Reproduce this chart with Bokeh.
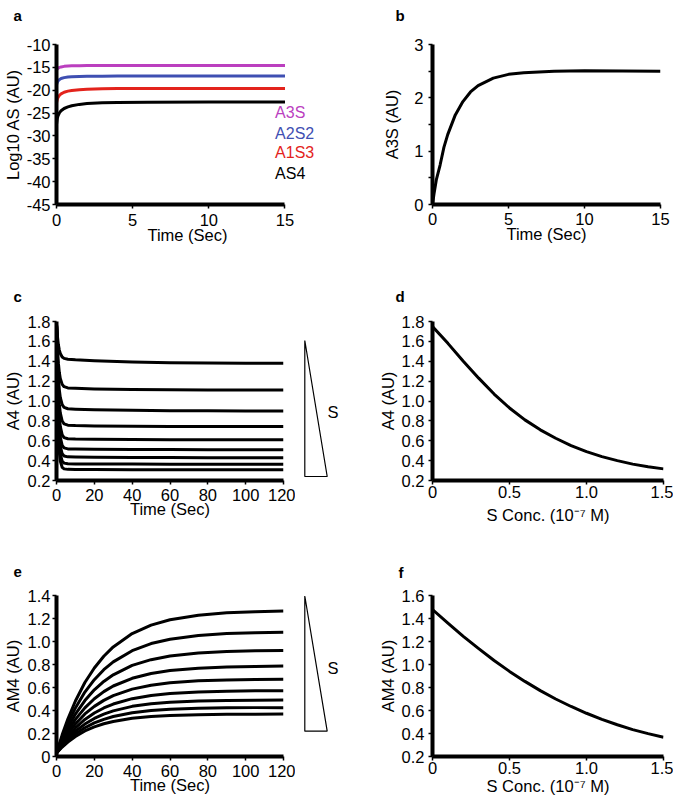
from bokeh.plotting import figure
from bokeh.layouts import row, column
from bokeh.models import Range1d, FixedTicker
from bokeh.embed import file_html
from bokeh.resources import INLINE
from bokeh.core.properties import value

FONT = "Liberation Sans"
FS = "16.5px"

# ---------------- data ----------------
# panel a : log10 of AS species vs time
a_time = [0, 0.05, 0.1, 0.2, 0.3, 0.5, 0.75, 1.0, 1.5, 2.0, 3.0, 4.0, 6.0, 10.0, 15.0]
a_A3S = [-15.6, -15.35, -15.2, -15.0, -14.9, -14.78, -14.71, -14.67, -14.63, -14.61, -14.6, -14.6, -14.6, -14.6, -14.6]
a_A2S2 = [-18.8, -18.3, -18.0, -17.65, -17.45, -17.25, -17.12, -17.05, -16.98, -16.95, -16.92, -16.91, -16.9, -16.9, -16.9]
a_A1S3 = [-22.8, -22.0, -21.6, -21.1, -20.8, -20.45, -20.2, -20.05, -19.88, -19.78, -19.68, -19.64, -19.61, -19.6, -19.6]
a_AS4 = [-27.5, -26.2, -25.6, -24.9, -24.5, -24.0, -23.65, -23.4, -23.1, -22.93, -22.75, -22.68, -22.63, -22.6, -22.6]
a_names = ["A3S", "A2S2", "A1S3", "AS4"]
a_colors = ["#bb3fbf", "#3f4fb2", "#e3231c", "#000000"]
a_xticks = [0, 5, 10, 15]
a_xlabels = ["0", "5", "10", "15"]
a_yticks = [-45, -40, -35, -30, -25, -20, -15, -10]
a_ylabels = ["-45", "-40", "-35", "-30", "-25", "-20", "-15", "-10"]

# panel b : A3S vs time
b_time = [0, 0.1, 0.25, 0.5, 0.75, 1.0, 1.5, 2.0, 2.5, 3.0, 4.0, 5.0, 6.0, 8.0, 10.0, 15.0]
b_A3S = [0, 0.2, 0.46, 0.74, 1.07, 1.31, 1.68, 1.93, 2.11, 2.23, 2.37, 2.44, 2.47, 2.5, 2.51, 2.5]
b_xticks = [0, 5, 10, 15]
b_xlabels = ["0", "5", "10", "15"]
b_yticks = [0, 1, 2, 3]
b_ylabels = ["0", "1", "2", "3"]
b_yminor = [0.5, 1.5, 2.5]

# panel c : A4 vs time for increasing S
c_time = [0, 0.5, 1, 1.5, 2, 3, 4, 6, 10, 20, 40, 60, 80, 100, 120]
c_A4 = [
    [1.78, 1.649, 1.565, 1.512, 1.478, 1.443, 1.429, 1.421, 1.415, 1.405, 1.392, 1.386, 1.383, 1.381, 1.380],
    [1.78, 1.534, 1.381, 1.286, 1.227, 1.167, 1.144, 1.132, 1.128, 1.122, 1.115, 1.112, 1.111, 1.110, 1.110],
    [1.78, 1.442, 1.236, 1.112, 1.036, 0.963, 0.936, 0.922, 0.918, 0.912, 0.906, 0.903, 0.901, 0.900, 0.900],
    [1.78, 1.361, 1.113, 0.966, 0.880, 0.799, 0.770, 0.757, 0.753, 0.749, 0.746, 0.744, 0.743, 0.743, 0.743],
    [1.78, 1.285, 1.000, 0.838, 0.744, 0.660, 0.632, 0.620, 0.617, 0.614, 0.612, 0.611, 0.610, 0.610, 0.610],
    [1.78, 1.218, 0.906, 0.733, 0.637, 0.554, 0.528, 0.518, 0.516, 0.514, 0.512, 0.511, 0.510, 0.510, 0.510],
    [1.78, 1.155, 0.822, 0.642, 0.547, 0.469, 0.446, 0.438, 0.436, 0.434, 0.432, 0.431, 0.430, 0.430, 0.430],
    [1.78, 1.092, 0.741, 0.559, 0.466, 0.394, 0.375, 0.368, 0.367, 0.366, 0.365, 0.364, 0.363, 0.363, 0.363],
    [1.78, 1.031, 0.664, 0.484, 0.396, 0.332, 0.317, 0.312, 0.311, 0.310, 0.309, 0.308, 0.307, 0.307, 0.307],
]
time_ticks = [0, 20, 40, 60, 80, 100, 120]
time_labels = ["0", "20", "40", "60", "80", "100", "120"]
a4_ticks = [0.2, 0.4, 0.6, 0.8, 1.0, 1.2, 1.4, 1.6, 1.8]
a4_labels = ["0.2", "0.4", "0.6", "0.8", "1.0", "1.2", "1.4", "1.6", "1.8"]

# panel d : A4 vs S concentration
d_conc = [0, 0.1, 0.2, 0.3, 0.4, 0.5, 0.6, 0.7, 0.8, 0.9, 1.0, 1.1, 1.2, 1.3, 1.4, 1.5]
d_A4 = [1.75, 1.58, 1.40, 1.23, 1.07, 0.93, 0.81, 0.71, 0.625, 0.55, 0.49, 0.44, 0.40, 0.365, 0.338, 0.317]
conc_ticks = [0, 0.5, 1.0, 1.5]
conc_labels = ["0", "0.5", "1.0", "1.5"]

# panel e : AM4 vs time for increasing S
e_time = [0, 3, 6, 10, 15, 20, 25, 30, 40, 50, 60, 75, 90, 105, 120]
e_AM4 = [
    [0.03, 0.188, 0.326, 0.483, 0.643, 0.770, 0.872, 0.953, 1.069, 1.142, 1.189, 1.229, 1.249, 1.259, 1.265],
    [0.03, 0.167, 0.286, 0.422, 0.560, 0.668, 0.755, 0.823, 0.920, 0.982, 1.020, 1.053, 1.069, 1.077, 1.081],
    [0.03, 0.149, 0.253, 0.369, 0.486, 0.580, 0.653, 0.710, 0.792, 0.842, 0.874, 0.900, 0.913, 0.919, 0.922],
    [0.03, 0.133, 0.223, 0.323, 0.423, 0.502, 0.564, 0.613, 0.680, 0.722, 0.747, 0.768, 0.779, 0.783, 0.786],
    [0.03, 0.119, 0.197, 0.283, 0.370, 0.436, 0.488, 0.530, 0.586, 0.620, 0.641, 0.658, 0.666, 0.670, 0.671],
    [0.03, 0.108, 0.174, 0.248, 0.322, 0.378, 0.422, 0.456, 0.503, 0.531, 0.548, 0.561, 0.568, 0.571, 0.572],
    [0.03, 0.097, 0.155, 0.219, 0.282, 0.331, 0.368, 0.397, 0.436, 0.459, 0.472, 0.483, 0.488, 0.490, 0.491],
    [0.03, 0.089, 0.140, 0.196, 0.250, 0.292, 0.323, 0.348, 0.380, 0.399, 0.411, 0.419, 0.423, 0.425, 0.425],
    [0.03, 0.082, 0.126, 0.174, 0.222, 0.257, 0.285, 0.305, 0.332, 0.348, 0.357, 0.364, 0.367, 0.368, 0.369],
]
e_yticks = [0, 0.2, 0.4, 0.6, 0.8, 1.0, 1.2, 1.4]
e_ylabels = ["0", "0.2", "0.4", "0.6", "0.8", "1.0", "1.2", "1.4"]

# panel f : AM4 vs S concentration
f_conc = [0, 0.1, 0.2, 0.3, 0.4, 0.5, 0.6, 0.7, 0.8, 0.9, 1.0, 1.1, 1.2, 1.3, 1.4, 1.5]
f_AM4 = [1.478, 1.36, 1.245, 1.138, 1.035, 0.94, 0.853, 0.773, 0.70, 0.635, 0.576, 0.523, 0.476, 0.434, 0.399, 0.368]
f_yticks = [0.2, 0.4, 0.6, 0.8, 1.0, 1.2, 1.4, 1.6]
f_ylabels = ["0.2", "0.4", "0.6", "0.8", "1.0", "1.2", "1.4", "1.6"]

# S-gradient wedge shape (fractions of its box)
wedge_x = [0.0, 0.0, 1.0]
wedge_y = [0.0, 1.0, 1.0]

LW = 3
TOTAL_W = 673


def make_fig(w, h, xr, yr, bl, br, bt, bb):
    p = figure(width=w, height=h, x_range=Range1d(*xr), y_range=Range1d(*yr),
               output_backend="svg", toolbar_location=None,
               min_border_left=bl, min_border_right=br, min_border_top=bt, min_border_bottom=bb)
    p.outline_line_color = None
    p.grid.visible = False
    p.background_fill_color = "white"
    return p


def style(p, xticks, xlabels, yticks, ylabels, xlabel, ylabel, x_std=0, y_std=0, x_lstd=2, y_lstd=2,
          yminor=None, xbounds=None):
    p.xaxis.ticker = FixedTicker(ticks=xticks)
    p.yaxis.ticker = FixedTicker(ticks=yticks, minor_ticks=yminor or [])
    p.xaxis.major_label_overrides = dict(zip(xticks, xlabels))
    p.yaxis.major_label_overrides = dict(zip(yticks, ylabels))
    if xbounds:
        p.xaxis.bounds = xbounds
    p.xaxis.axis_label = xlabel
    p.yaxis.axis_label = ylabel
    for ax in p.axis:
        ax.axis_line_width = 4
        ax.axis_line_color = "black"
        ax.major_tick_line_width = 1.5
        ax.major_tick_line_color = "black"
        ax.major_tick_out = 4
        ax.major_tick_in = 0
        ax.minor_tick_line_width = 1.5
        ax.minor_tick_line_color = "black"
        ax.minor_tick_in = 0
        ax.major_label_text_font = FONT
        ax.major_label_text_font_size = FS
        ax.major_label_text_color = "black"
        ax.axis_label_text_font = FONT
        ax.axis_label_text_font_size = FS
        ax.axis_label_text_font_style = "normal"
        ax.axis_label_text_color = "black"
    p.xaxis.minor_tick_out = 0
    p.yaxis.minor_tick_out = 4 if yminor else 0
    p.xaxis.major_label_standoff = x_std
    p.yaxis.major_label_standoff = y_std
    p.xaxis.axis_label_standoff = x_lstd
    p.yaxis.axis_label_standoff = y_lstd


def strip(h, letters, xs, baseline):
    p = figure(width=TOTAL_W, height=h, x_range=Range1d(0, TOTAL_W), y_range=Range1d(h, 0),
               output_backend="svg", toolbar_location=None,
               x_axis_type=None, y_axis_type=None,
               min_border_left=0, min_border_right=0, min_border_top=0, min_border_bottom=0)
    p.outline_line_color = None
    p.grid.visible = False
    p.text(x=xs, y=[baseline] * len(xs), text=letters, text_font=value(FONT),
           text_font_size="15px", text_font_style="bold", text_color="black",
           text_align="left", text_baseline="alphabetic")
    return p


def wedge_fig(w, h, bt, bb, top, bottom, left, right, sx, sy):
    # coordinates are pixels from the top-left of this figure; borders match the row's plots
    p = figure(width=w, height=h, x_range=Range1d(0, w), y_range=Range1d(h - bb, bt),
               output_backend="svg", toolbar_location=None,
               x_axis_type=None, y_axis_type=None,
               min_border_left=0, min_border_right=0, min_border_top=bt, min_border_bottom=bb)
    p.outline_line_color = None
    p.grid.visible = False
    xs = [left + fx * (right - left) for fx in wedge_x]
    ys = [top + fy * (bottom - top) for fy in wedge_y]
    p.patch(xs, ys, fill_color=None, line_color="black", line_width=1.2)
    p.text(x=[sx], y=[sy], text=["S"], text_font=value(FONT), text_font_size=FS,
           text_align="center", text_baseline="middle", text_color="black")
    return p


# ---------------- row 1 ----------------
s1 = strip(22, ["a", "b"], [13, 395], 14.5)

pa = make_fig(340, 228, (0, 17.2), (-45, -10), 53, 22, 22, 46)
for ys, col in zip([a_A3S, a_A2S2, a_A1S3, a_AS4], a_colors):
    pa.line(a_time, ys, line_color=col, line_width=LW, line_join="round")
style(pa, a_xticks, a_xlabels, a_yticks, a_ylabels, "Time (Sec)", "Log10 AS (AU)",
      x_std=5, y_std=2, x_lstd=-3, y_lstd=2, xbounds=(0, 15))
pa.text(x=[14.35] * 4, y=[-24.88, -29.47, -33.63, -38.2], text=a_names, text_color=a_colors,
        text_font=value(FONT), text_font_size="16px", text_baseline="middle", text_align="left")

pb = make_fig(333, 228, (0, 15), (0, 3), 92, 13, 22, 46)
pb.line(b_time, b_A3S, line_color="black", line_width=LW, line_join="round")
style(pb, b_xticks, b_xlabels, b_yticks, b_ylabels, "Time (Sec)", "A3S (AU)",
      x_std=4, y_std=5, x_lstd=-3, y_lstd=10, yminor=b_yminor)

# ---------------- row 2 ----------------
s2 = strip(55, ["c", "d"], [13, 395], 46)

pc = make_fig(295, 225, (0, 120), (0.2, 1.8), 53, 12, 16, 50)
for ys in c_A4:
    pc.line(c_time, ys, line_color="black", line_width=LW, line_join="round")
style(pc, time_ticks, time_labels, a4_ticks, a4_labels, "Time (Sec)", "A4 (AU)",
      x_std=4, y_std=2, x_lstd=-4, y_lstd=3)
pct = wedge_fig(45, 225, 16, 50, 35, 171, 9.3, 31.7, 37.5, 106)

pd_ = make_fig(333, 225, (0, 1.5), (0.2, 1.8), 92, 10, 16, 50)
pd_.line(d_conc, d_A4, line_color="black", line_width=LW, line_join="round")
style(pd_, conc_ticks, conc_labels, a4_ticks, a4_labels, "S Conc. (10\u207b\u2077 M)", "A4 (AU)",
      x_std=1, y_std=4, x_lstd=5, y_lstd=2)

# ---------------- row 3 ----------------
s3 = strip(50, ["e", "f"], [13, 398], 41.7)

pe = make_fig(295, 220, (0, 120), (0, 1.4), 53, 12, 15, 44)
for ys in e_AM4:
    pe.line(e_time, ys, line_color="black", line_width=LW, line_join="round")
style(pe, time_ticks, time_labels, e_yticks, e_ylabels, "Time (Sec)", "AM4 (AU)",
      x_std=4, y_std=2, x_lstd=-4, y_lstd=3)
pet = wedge_fig(45, 220, 15, 44, 15.5, 150.7, 9.3, 31.7, 37.5, 87)

pf = make_fig(333, 220, (0, 1.5), (0.2, 1.6), 92, 10, 15, 44)
pf.line(f_conc, f_AM4, line_color="black", line_width=LW, line_join="round")
style(pf, conc_ticks, conc_labels, f_yticks, f_ylabels, "S Conc. (10\u207b\u2077 M)", "AM4 (AU)",
      x_std=1, y_std=4, x_lstd=0, y_lstd=2)

layout = column(s1, row(pa, pb), s2, row(pc, pct, pd_), s3, row(pe, pet, pf))

open("out.html", "w").write(file_html(layout, INLINE))
